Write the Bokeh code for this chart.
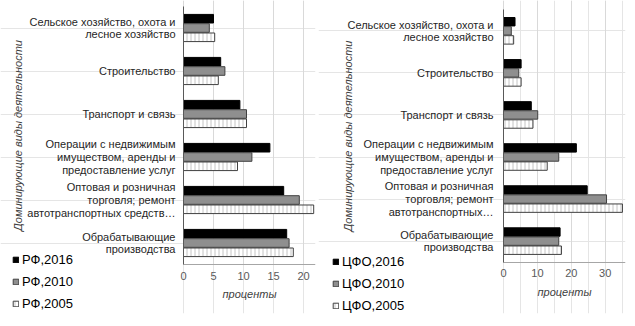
from bokeh.plotting import figure
from bokeh.models import ColumnDataSource, FactorRange, FixedTicker, Legend, LegendItem, Range1d
from bokeh.layouts import row
from bokeh.transform import dodge
from bokeh.embed import file_html
from bokeh.resources import INLINE
import bokeh.models as bm

# Categories, top to bottom
labels_rf = [
    "Сельское хозяйство, охота и\nлесное хозяйство",
    "Строительство",
    "Транспорт и связь",
    "Операции с недвижимым\nимуществом, аренды и\nпредоставление услуг",
    "Оптовая и розничная\nторговля; ремонт\nавтотранспортных средств…",
    "Обрабатывающие\nпроизводства",
]
labels_cfo = [
    "Сельское хозяйство, охота и\nлесное хозяйство",
    "Строительство",
    "Транспорт и связь",
    "Операции с недвижимым\nимуществом, аренды и\nпредоставление услуг",
    "Оптовая и розничная\nторговля; ремонт\nавтотранспортных…",
    "Обрабатывающие\nпроизводства",
]

rf_2016 = [5.0, 6.2, 9.4, 14.4, 16.7, 17.2]
rf_2010 = [4.3, 6.9, 10.5, 11.4, 19.3, 17.6]
rf_2005 = [5.2, 5.8, 10.5, 9.0, 21.7, 18.3]

cfo_2016 = [3.4, 5.2, 8.2, 21.5, 24.7, 16.7]
cfo_2010 = [2.3, 4.5, 10.1, 16.3, 30.4, 16.3]
cfo_2005 = [3.0, 5.2, 8.7, 12.9, 35.1, 17.1]

rf_names = ["РФ,2016", "РФ,2010", "РФ,2005"]
cfo_names = ["ЦФО,2016", "ЦФО,2010", "ЦФО,2005"]

rf_ticks = [0, 5, 10, 15, 20]
cfo_ticks = [0, 10, 20, 30]

FONT = "Liberation Sans"
H = 326


def make_chart(labels, v16, v10, v05, ticks, xmax, names, width, x0_px,
               border_right, top_px, label_standoff, title_standoff, leg_vx, leg_vy):
    # one synthetic unit per category = 43 px
    unit = 43.0
    pad = top_px / unit
    n = len(labels) + 1  # one blank factor below for the legend / x axis room
    frame_h = unit * (n + 2 * pad)
    frame_w = width - border_right
    px_per = (frame_w - x0_px) / xmax
    factors = [" "] + list(reversed(labels))

    src = ColumnDataSource(dict(cat=labels, v16=v16, v10=v10, v05=v05))
    p = figure(
        width=width, height=H,
        y_range=FactorRange(factors=factors, range_padding=pad,
                            range_padding_units="absolute"),
        x_range=Range1d(-x0_px / px_per, xmax),
        x_axis_location=None, y_axis_location=None,
        output_backend="svg", toolbar_location=None,
        min_border_left=0, min_border_right=border_right,
        min_border_top=0, min_border_bottom=int(round(H - frame_h)),
    )
    p.outline_line_color = None
    p.background_fill_color = "white"
    p.border_fill_color = "white"

    h = 0.2
    r16 = p.hbar(y=dodge("cat", 0.216, range=p.y_range), left=0, right="v16", height=h,
                 source=src, fill_color="black", line_color="black", line_width=1)
    r10 = p.hbar(y=dodge("cat", 0.0, range=p.y_range), left=0, right="v10", height=h,
                 source=src, fill_color="#8f8f8f", line_color="#404040", line_width=1)
    r05 = p.hbar(y=dodge("cat", -0.216, range=p.y_range), left=0, right="v05", height=h,
                 source=src, fill_color="white", line_color="#404040", line_width=1,
                 hatch_pattern="vertical_line", hatch_color="#c4c4c4",
                 hatch_scale=4, hatch_weight=1)

    # x axis fixed at the bottom of the category block
    xa = bm.LinearAxis(fixed_location=1.0, bounds=(0, xmax),
                       ticker=FixedTicker(ticks=ticks))
    xa.axis_line_color = "#a6a6a6"
    xa.major_tick_line_color = None
    xa.minor_tick_line_color = None
    xa.major_tick_out = 0
    xa.major_tick_in = 0
    xa.major_label_standoff = 7
    xa.major_label_text_font = FONT
    xa.major_label_text_font_size = "11px"
    xa.major_label_text_color = "#595959"
    xa.axis_label = "проценты"
    xa.axis_label_text_font = FONT
    xa.axis_label_text_font_size = "11px"
    xa.axis_label_text_font_style = "italic"
    xa.axis_label_text_color = "#404040"
    xa.axis_label_standoff = 5
    p.add_layout(xa, "below")

    # y axis fixed at x = 0
    ya = bm.CategoricalAxis(fixed_location=0, bounds=(1.0, float(n)))
    ya.axis_line_color = "#595959"
    ya.major_tick_line_color = None
    ya.minor_tick_line_color = None
    ya.major_tick_out = 0
    ya.major_tick_in = 0
    ya.major_label_standoff = label_standoff
    ya.major_label_text_font = FONT
    ya.major_label_text_font_size = "11px"
    ya.major_label_text_color = "#262626"
    ya.major_label_text_line_height = 1.05
    ya.axis_label = "Доминирующие виды деятельности"
    ya.axis_label_text_font = FONT
    ya.axis_label_text_font_size = "11px"
    ya.axis_label_text_font_style = "italic"
    ya.axis_label_text_color = "#404040"
    ya.axis_label_standoff = title_standoff
    p.add_layout(ya, "left")

    grid = bm.Grid(dimension=0, ticker=xa.ticker, grid_line_color="#d9d9d9",
                   bounds=(0, xmax))
    try:
        grid.cross_bounds = (1.0, float(n) + pad)
    except Exception:
        pass
    p.add_layout(grid)

    legend = Legend(
        items=[LegendItem(label=names[0], renderers=[r16]),
               LegendItem(label=names[1], renderers=[r10]),
               LegendItem(label=names[2], renderers=[r05])],
        location=(leg_vx, leg_vy),
        orientation="vertical",
        margin=0, padding=0, spacing=7,
        glyph_width=7, glyph_height=7, label_height=14,
        label_standoff=3,
        label_text_font=FONT, label_text_font_size="13px", label_text_color="black",
        border_line_color=None, background_fill_alpha=0,
    )
    p.add_layout(legend, "center")
    return p


p1 = make_chart(labels_rf, rf_2016, rf_2010, rf_2005, rf_ticks, 22.0, rf_names,
                318, 183, 3, 6, 8, 0, 12, 2)
p2 = make_chart(labels_cfo, cfo_2016, cfo_2010, cfo_2005, cfo_ticks, 36.0, cfo_names,
                317, 185, 10, 9.5, 10, -10, 14, 0)

layout = row(p1, p2, spacing=0)
open("out.html", "w").write(file_html(layout, INLINE))
